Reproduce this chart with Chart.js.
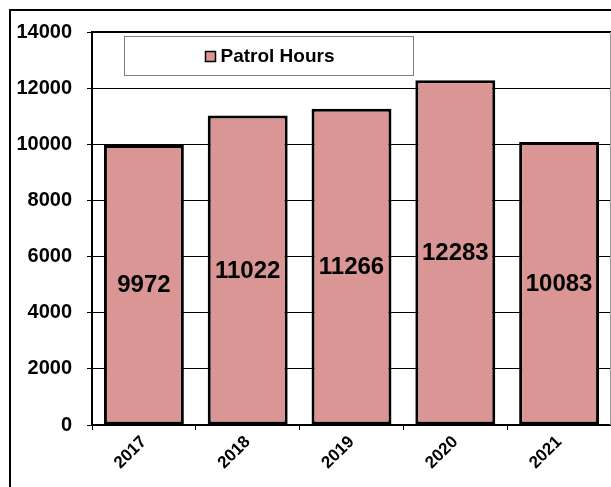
<!DOCTYPE html>
<html>
<head>
<meta charset="utf-8">
<script src="https://cdn.jsdelivr.net/npm/chart.js@4"></script>
<style>
  html, body { margin: 0; padding: 0; background: #fff; }
  #wrap { width: 611px; height: 487px; position: relative; }
</style>
</head>
<body>
<div id="wrap"><canvas id="c" width="611" height="487"></canvas></div>
<script>
const years = ['2017', '2018', '2019', '2020', '2021'];
const patrolHours = [9972, 11022, 11266, 12283, 10083];
const seriesName = 'Patrol Hours';
const yMin = 0, yMax = 14000, yStep = 2000;

const FONT = "'Liberation Sans', Arial, sans-serif";
const BAR_FILL = '#D99694';

const framePlugin = {
  id: 'frame',
  beforeDraw(chart) {
    const ctx = chart.ctx;
    ctx.save();
    ctx.fillStyle = '#fff';
    ctx.fillRect(0, 0, chart.width, chart.height);
    ctx.strokeStyle = '#000';
    ctx.lineWidth = 2;
    ctx.beginPath();
    ctx.moveTo(10, chart.height + 2);
    ctx.lineTo(10, 10);
    ctx.lineTo(chart.width + 2, 10);
    ctx.stroke();
    ctx.restore();
  },
  afterDatasetsDraw(chart) {
    const ctx = chart.ctx;
    const a = chart.chartArea;
    ctx.save();
    ctx.strokeStyle = '#000';
    ctx.lineWidth = 2;
    ctx.beginPath();
    ctx.moveTo(a.left - 1, a.top);
    ctx.lineTo(a.right, a.top);
    ctx.stroke();
    ctx.strokeStyle = '#999';
    ctx.lineWidth = 1;
    ctx.beginPath();
    ctx.moveTo(a.right - 0.5, a.top);
    ctx.lineTo(a.right - 0.5, a.bottom);
    ctx.stroke();

    const meta = chart.getDatasetMeta(0);
    ctx.fillStyle = '#000';
    ctx.font = 'bold 24px ' + FONT;
    ctx.textAlign = 'center';
    ctx.textBaseline = 'middle';
    meta.data.forEach((bar, i) => {
      const p = bar.getProps(['x', 'y', 'base'], true);
      ctx.fillText(String(chart.data.datasets[0].data[i]), p.x, (p.y + p.base) / 2 + 1);
    });

    const lx = a.left + 32, ly = a.top + 4, lw = 289, lh = 39;
    ctx.fillStyle = '#fff';
    ctx.fillRect(lx, ly, lw, lh);
    ctx.strokeStyle = '#808080';
    ctx.lineWidth = 1;
    ctx.strokeRect(lx + 0.5, ly + 0.5, lw, lh);
    ctx.font = 'bold 19px ' + FONT;
    ctx.textAlign = 'left';
    ctx.textBaseline = 'middle';
    const label = chart.data.datasets[0].label;
    const tw = ctx.measureText(label).width;
    const total = 11 + 5 + tw;
    const sx = lx + (lw - total) / 2 + 2;
    const cy = ly + lh / 2 + 1;
    ctx.fillStyle = BAR_FILL;
    ctx.fillRect(sx, cy - 5, 10, 10);
    ctx.strokeStyle = '#000';
    ctx.lineWidth = 1.5;
    ctx.strokeRect(sx, cy - 5, 10, 10);
    ctx.fillStyle = '#000';
    ctx.fillText(label, sx + 15, cy);
    ctx.restore();
  }
};

new Chart(document.getElementById('c'), {
  type: 'bar',
  data: {
    labels: years,
    datasets: [{
      label: seriesName,
      data: patrolHours,
      backgroundColor: BAR_FILL,
      borderColor: '#000',
      borderWidth: 3,
      borderSkipped: false,
      barPercentage: 0.77,
      categoryPercentage: 1.0
    }]
  },
  options: {
    responsive: false,
    animation: false,
    devicePixelRatio: 1,
    layout: { padding: { top: 32, left: 0, right: 0, bottom: 0 } },
    plugins: { legend: { display: false }, tooltip: { enabled: false } },
    scales: {
      x: {
        offset: true,
        grid: { display: true, drawOnChartArea: false, drawTicks: true, tickLength: 5, color: '#000', offset: true },
        border: { display: true, color: '#000', width: 2 },
        ticks: { color: '#000', font: { family: FONT, size: 17, weight: 'bold' }, minRotation: 45, maxRotation: 45, padding: 2 },
        afterFit(scale) { scale.height = 62; }
      },
      y: {
        min: yMin, max: yMax,
        ticks: { stepSize: yStep, color: '#000', font: { family: FONT, size: 20, weight: 'bold' }, padding: 15,
                 callback: (v) => String(v) },
        grid: { color: '#000', lineWidth: 1, drawTicks: true, tickLength: 5 },
        border: { display: true, color: '#000', width: 2 },
        afterFit(scale) { scale.width = 92; }
      }
    }
  },
  plugins: [framePlugin]
});
</script>
</body>
</html>
